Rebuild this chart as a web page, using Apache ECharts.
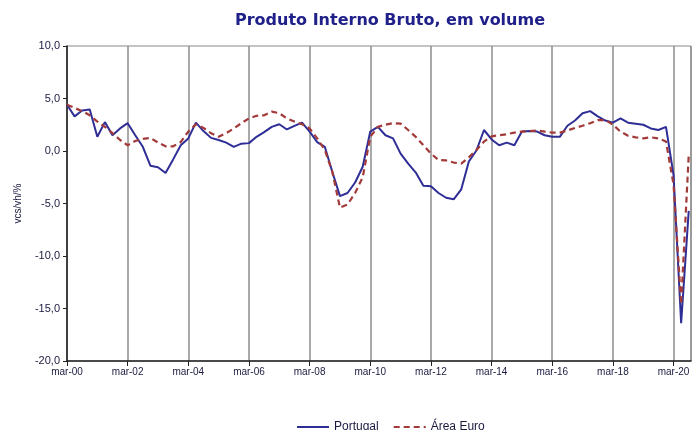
<!DOCTYPE html>
<html>
<head>
<meta charset="utf-8">
<title>Produto Interno Bruto, em volume</title>
<script src="https://cdn.jsdelivr.net/npm/echarts@6/dist/echarts.min.js"></script>
<style>
  html, body { margin: 0; padding: 0; background: #fff; }
  #chart { width: 696px; height: 430px; }
</style>
</head>
<body>
<div id="chart"></div>
<script>
// taxas de variação homóloga trimestrais, 1T2000 a 3T2020
const xLabels = ['mar-00', 'mar-02', 'mar-04', 'mar-06', 'mar-08', 'mar-10',
    'mar-12', 'mar-14', 'mar-16', 'mar-18', 'mar-20'];

const portugal = [
    4.4, 3.3, 3.85, 3.95, 1.35, 2.75, 1.5, 2.15,
    2.65, 1.5, 0.4, -1.4, -1.55, -2.1, -0.8, 0.55,
    1.2, 2.7, 1.9, 1.25, 1.05, 0.8, 0.4, 0.7,
    0.75, 1.35, 1.8, 2.3, 2.55, 2.05, 2.4, 2.7,
    1.85, 0.85, 0.4, -2.0, -4.3, -4.0, -3.0, -1.5,
    1.85, 2.3, 1.5, 1.2, -0.25, -1.2, -2.05, -3.3,
    -3.35, -4.0, -4.45, -4.6, -3.65, -1.0, 0.05, 2.0,
    1.1, 0.55, 0.8, 0.55, 1.85, 1.9, 1.85, 1.5,
    1.35, 1.35, 2.4, 2.9, 3.6, 3.8, 3.3, 2.9,
    2.7, 3.1, 2.7, 2.6, 2.5, 2.15, 2.0, 2.3,
    -2.3, -16.4, -5.7
];

const areaEuro = [
    4.4, 4.1, 3.8, 3.4, 2.8, 2.3, 1.7, 1.05,
    0.55, 0.95, 1.15, 1.25, 0.8, 0.45, 0.45, 0.85,
    1.85, 2.55, 2.2, 1.7, 1.35, 1.7, 2.15, 2.65,
    3.1, 3.35, 3.4, 3.75, 3.6, 3.1, 2.8, 2.55,
    2.15, 1.2, 0.1, -2.0, -5.4, -5.1, -4.0, -2.5,
    1.35, 2.3, 2.5, 2.65, 2.6, 2.0, 1.35, 0.55,
    -0.25, -0.85, -0.9, -1.1, -1.2, -0.6, 0.1, 0.9,
    1.4, 1.5, 1.6, 1.75, 1.85, 1.9, 1.95, 1.85,
    1.75, 1.75, 1.95, 2.2, 2.4, 2.65, 2.95, 2.95,
    2.5, 1.85, 1.45, 1.3, 1.2, 1.3, 1.2, 0.9,
    -3.2, -14.6, -0.4
];

function toPairs(values) {
    return values.map((v, i) => [i, v]);
}

const chart = echarts.init(document.getElementById('chart'));

const option = {
    animation: false,
    backgroundColor: '#fff',
    title: {
        text: 'Produto Interno Bruto, em volume',
        left: 385,
        textAlign: 'center',
        top: 8,
        textStyle: {
            fontFamily: 'DejaVu Sans',
            fontSize: 16,
            fontWeight: 'bold',
            color: '#20208a'
        }
    },
    legend: {
        top: 416,
        left: 291,
        itemWidth: 32,
        itemHeight: 14,
        itemGap: 14,
        itemStyle: { opacity: 0 },
        textStyle: {
            fontFamily: 'Liberation Sans',
            fontSize: 12,
            color: '#1a1a40'
        },
        data: ['Portugal', 'Área Euro']
    },
    grid: {
        left: 67,
        right: 5,
        top: 46,
        bottom: 69,
        show: true,
        borderColor: '#888',
        borderWidth: 1
    },
    xAxis: {
        type: 'value',
        min: 0,
        max: 82.3,
        interval: 8,
        axisLine: { onZero: false, lineStyle: { color: '#222', width: 1.5 } },
        axisTick: { show: true, length: 5, lineStyle: { color: '#222' } },
        axisLabel: {
            fontFamily: 'Liberation Sans',
            fontSize: 10,
            color: '#1a1a40',
            margin: 6,
            showMaxLabel: false,
            formatter: function (v) {
                return v % 8 === 0 ? xLabels[v / 8] : '';
            }
        },
        splitLine: { show: true, lineStyle: { color: '#8c8c8c', width: 1.5 } }
    },
    yAxis: {
        type: 'value',
        min: -20,
        max: 10,
        interval: 5,
        name: 'vcs/vh/%',
        nameLocation: 'middle',
        nameGap: 44,
        nameTextStyle: {
            fontFamily: 'Liberation Sans',
            fontSize: 10,
            color: '#1a1a40'
        },
        axisLine: { show: true, lineStyle: { color: '#222', width: 1.5 } },
        axisTick: { show: true, length: 4, lineStyle: { color: '#222' } },
        axisLabel: {
            fontFamily: 'Liberation Sans',
            fontSize: 11,
            color: '#1a1a40',
            margin: 7,
            formatter: function (v) {
                return v.toFixed(1).replace('.', ',');
            }
        },
        splitLine: { show: false }
    },
    series: [
        {
            name: 'Portugal',
            type: 'line',
            symbol: 'none',
            data: toPairs(portugal),
            lineStyle: { color: '#2e2e96', width: 2 },
            itemStyle: { color: '#2e2e96' }
        },
        {
            name: 'Área Euro',
            type: 'line',
            symbol: 'none',
            data: toPairs(areaEuro),
            lineStyle: { color: '#a33a3a', width: 2.2, type: [6, 4] },
            itemStyle: { color: '#a33a3a' }
        }
    ]
};

chart.setOption(option);
</script>
</body>
</html>
